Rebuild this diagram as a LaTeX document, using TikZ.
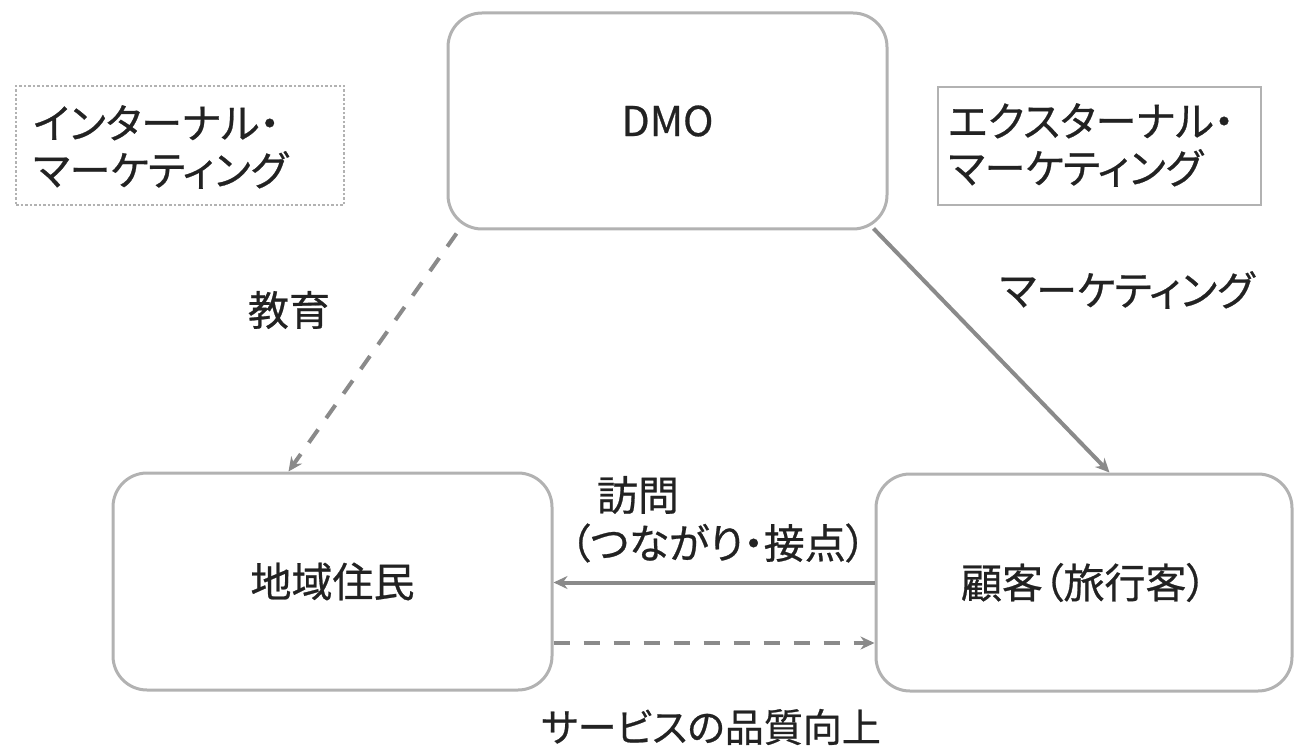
\documentclass[tikz,border=0pt]{standalone}
\usepackage{fontspec}
\setmainfont[RawFeature=+palt, FakeBold=0.6]{Noto Sans CJK JP}
\usetikzlibrary{arrows.meta,calc}
\definecolor{boxgray}{HTML}{B2B2B2}
\definecolor{arrgray}{HTML}{8A8A8A}
\definecolor{txtcol}{HTML}{222222}
\begin{document}
\begin{tikzpicture}[x=1pt,y=-1pt,
  every node/.style={font=\fontsize{41}{47}\selectfont, text=txtcol},
  mainbox/.style={draw=boxgray, line width=3pt, rounded corners=34pt, fill=white},
  tagbox/.style={draw=boxgray, line width=2.5pt},
  arr/.style={draw=arrgray, line width=4pt, -{Stealth[length=14pt,width=13pt]}},
  dsh/.style={dash pattern=on 16pt off 14pt}
]
\useasboundingbox (0,0) rectangle (1294,754);
% main boxes
\node[mainbox, minimum width=439pt, minimum height=216pt] (dmo) at (667.5,121) {DMO};
\node[mainbox, minimum width=439pt, minimum height=217pt] (res) at (332.5,581.5) {地域住民};
\node[mainbox, minimum width=416pt, minimum height=217pt] (cus) at (1084,582.5) {顧客（旅行客）};
% tag boxes
\node[tagbox, dotted, minimum width=328pt, minimum height=119pt] (int) at (180,145.5) {};
\node[tagbox, minimum width=323pt, minimum height=118pt] (ext) at (1099.5,146) {};
\node[anchor=west, align=left, inner sep=0pt] (inttxt) at (33,147) {インターナル・\\マーケティング};
\node[anchor=west, align=left, inner sep=0pt] (exttxt) at (948,145) {エクスターナル・\\マーケティング};
% connectors
\draw[arr, dsh] ($(dmo.south west)+(10,3)$) -- ($(res.north west)+(177,0)$);
\draw[arr] ($(dmo.south east)+(-15,-2)$) -- ($(cus.north west)+(235,0)$);
\draw[arr] (cus.west) -- (res.east |- cus.west);
\draw[arr, dsh] ($(res.east)+(0,61.5)$) -- ($(cus.west)+(0,60.5)$);
% labels
\node (edu) at (289,310) {教育};
\node (mkt) at (1127,290) {マーケティング};
\node (visit) at (638,495) {訪問};
\node (visit2) at (718,543) {（つながり・接点）};
\node[font=\fontsize{39}{47}\selectfont] (svc) at (711,727) {サービスの品質向上};
\end{tikzpicture}
\end{document}
